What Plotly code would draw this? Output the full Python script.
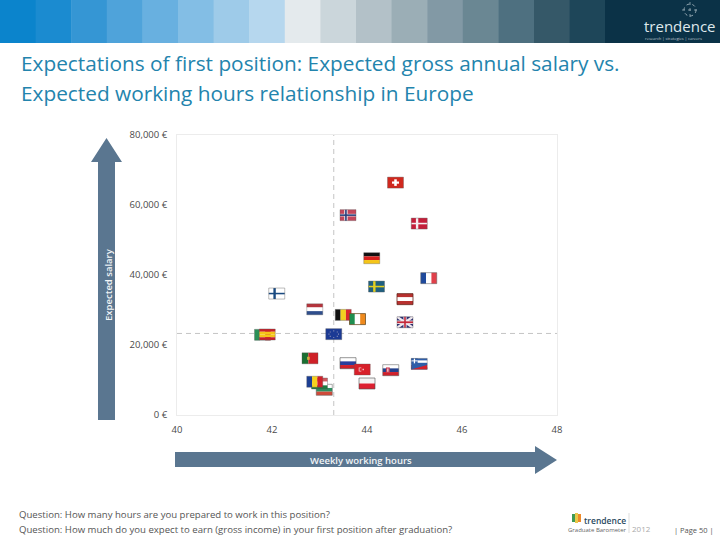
import plotly.graph_objects as go

W, H = 720, 540
COUNTRIES = ["CH","NO","DK","DE","FR","SE","AT","FI","NL","BE","IE","UK","IT","ES","EU","PT","RU","TR","SK","GR","BG","HU","RO","PL"]
HOURS = [44.6,43.6,45.1,44.1,45.3,44.2,44.8,42.1,42.9,43.5,43.8,44.8,41.8,41.9,43.3,42.8,43.6,43.9,44.5,45.1,43.1,43.0,42.9,44.0]
SALARY = [66400,57100,54700,44800,39100,36700,33100,34700,30200,28600,27400,26500,22900,23000,23100,16200,14800,13000,12800,14600,7200,9000,9500,9000]
X_TICKS = [40,42,44,46,48]
Y_TICKS = [0,20000,40000,60000,80000]
Y_LABELS = ["0 €","20,000 €","40,000 €","60,000 €","80,000 €"]
MEAN_HOURS = 43.3
MEAN_SALARY = 23300
BANDS = ["#0b84cc","#1b8bd0","#3596d4","#4fa3da","#68b0e0","#83bee5","#9ecbe9","#b6d7ee","#e4eaed","#cbd6db","#b3c1c8","#9baeb6","#8299a5","#6a8793","#4e7080","#355868","#1e4659"]
HEADER_DARK = "#0b3247"
TITLE_1 = "Expectations of first position: Expected gross annual salary vs."
TITLE_2 = "Expected working hours relationship in Europe"
Q1 = "Question: How many hours are you prepared to work in this position?"
Q2 = "Question: How much do you expect to earn (gross income) in your first position after graduation?"
ARROW = "#5a7690"

FW, FH = 16, 11


def px(x): return x / W
def py(y): return 1 - y / H


shapes = []
def rect_p(x0, y0, x1, y1, c):
    shapes.append(dict(type="rect", xref="paper", yref="paper", x0=px(x0), x1=px(x1), y0=py(y0), y1=py(y1),
                       fillcolor=c, line_width=0, layer="below"))
def poly_p(pts, c):
    d = "M" + " L".join(f"{px(a):.5f},{py(b):.5f}" for a, b in pts) + " Z"
    shapes.append(dict(type="path", xref="paper", yref="paper", path=d, fillcolor=c, line_width=0, layer="below"))


def frect(i, u0, v0, u1, v1, c):
    """rect in flag units (u right, v down, 0..1), anchored on the data point"""
    shapes.append(dict(type="rect", xref="x", yref="y", xsizemode="pixel", ysizemode="pixel",
                       xanchor=HOURS[i], yanchor=SALARY[i],
                       x0=(u0 - .5) * FW, x1=(u1 - .5) * FW, y0=(.5 - v0) * FH, y1=(.5 - v1) * FH,
                       fillcolor=c, line_width=0, layer="above"))
def fpoly(i, pts, c, lw=0, lc=None):
    d = "M" + " L".join(f"{(u - .5) * FW:.2f},{(.5 - v) * FH:.2f}" for u, v in pts)
    if lw == 0:
        d += " Z"
    s = dict(type="path", xref="x", yref="y", xsizemode="pixel", ysizemode="pixel",
             xanchor=HOURS[i], yanchor=SALARY[i], path=d, layer="above")
    if lw:
        s["line"] = dict(color=lc, width=lw)
    else:
        s["fillcolor"] = c
        s["line_width"] = 0
    shapes.append(s)
def outline(i, c):
    shapes.append(dict(type="rect", xref="x", yref="y", xsizemode="pixel", ysizemode="pixel",
                       xanchor=HOURS[i], yanchor=SALARY[i], x0=-FW / 2, x1=FW / 2, y0=FH / 2, y1=-FH / 2,
                       line=dict(color=c, width=1), fillcolor="rgba(0,0,0,0)", layer="above"))
def hs(i, cols):
    for k, c in enumerate(cols):
        frect(i, 0, k / len(cols), 1, (k + 1) / len(cols), c)
def vs(i, cols):
    for k, c in enumerate(cols):
        frect(i, k / len(cols), 0, (k + 1) / len(cols), 1, c)
def cross(i, bg, c1, c2=None):
    frect(i, 0, 0, 1, 1, bg)
    if c2:
        frect(i, .26, 0, .48, 1, c2)
        frect(i, 0, .38, 1, .62, c2)
    a, b = (.32, .42) if c2 else (.29, .44)
    frect(i, a, 0, b, 1, c1)
    frect(i, 0, .43, 1, .57, c1)


for i, c in enumerate(COUNTRIES):
    edge = "rgba(90,90,90,.35)"
    if c == "CH":
        frect(i, 0, 0, 1, 1, "#d0281e"); frect(i, .42, .2, .58, .8, "#fff"); frect(i, .28, .4, .72, .6, "#fff")
    elif c == "NO": cross(i, "#c4455a", "#2b3f7c", "#e8dfe2")
    elif c == "DK": cross(i, "#c41e3a", "#f4eef0")
    elif c == "DE": hs(i, ["#111111", "#d8201e", "#f5c518"])
    elif c == "FR": vs(i, ["#1f4a9c", "#ffffff", "#e0404a"]); edge = "rgba(90,90,90,.5)"
    elif c == "SE": cross(i, "#1f5f7f", "#e4d020")
    elif c == "AT": hs(i, ["#b8312f", "#ffffff", "#b8312f"]); edge = "rgba(100,40,30,.8)"
    elif c == "FI": cross(i, "#ffffff", "#1a4a80"); edge = "rgba(90,90,90,.4)"
    elif c == "NL": hs(i, ["#b5343c", "#ffffff", "#2f4e8c"])
    elif c == "BE": vs(i, ["#111111", "#f2d020", "#d8262e"])
    elif c == "IE": vs(i, ["#1f8f50", "#ffffff", "#ef8a1d"]); edge = "rgba(110,80,40,.8)"
    elif c == "UK":
        frect(i, 0, 0, 1, 1, "#2a2f70")
        fpoly(i, [(0, 0), (1, 1)], None, 2.2, "#f0e8ee"); fpoly(i, [(0, 1), (1, 0)], None, 2.2, "#f0e8ee")
        frect(i, .4, 0, .6, 1, "#f0e8ee"); frect(i, 0, .34, 1, .66, "#f0e8ee")
        frect(i, .45, 0, .55, 1, "#c4283a"); frect(i, 0, .42, 1, .58, "#c4283a")
    elif c == "IT": vs(i, ["#2a9058", "#ffffff", "#d0202a"])
    elif c == "ES":
        hs(i, ["#c8202a", "#f5c518", "#f5c518", "#c8202a"])
    elif c == "EU":
        frect(i, 0, 0, 1, 1, "#1c3a94")
        for u, v in [(.5, .2), (.72, .3), (.8, .5), (.72, .7), (.5, .8), (.28, .7), (.2, .5), (.28, .3)]:
            frect(i, u - .03, v - .05, u + .03, v + .05, "#8f93b8")
    elif c == "PT":
        frect(i, 0, 0, .4, 1, "#1b6f32"); frect(i, .4, 0, 1, 1, "#cf2027"); frect(i, .32, .36, .48, .64, "#d8b040")
    elif c == "RU": hs(i, ["#ffffff", "#2a3f9c", "#d0202a"]); edge = "rgba(80,80,80,.6)"
    elif c == "TR":
        frect(i, 0, 0, 1, 1, "#d8202a"); frect(i, .28, .32, .44, .68, "#f4d8d8"); frect(i, .33, .38, .46, .62, "#d8202a"); frect(i, .52, .44, .6, .56, "#f4d8d8")
    elif c == "SK":
        hs(i, ["#ffffff", "#23408c", "#d0202a"]); frect(i, .2, .25, .44, .75, "#c83a50"); frect(i, .29, .35, .35, .65, "#ffffff"); edge = "rgba(80,80,80,.5)"
    elif c == "GR":
        hs(i, ["#2f5ea8", "#ffffff", "#2f5ea8", "#ffffff", "#2f5ea8"])
        frect(i, 0, .6, 1, 1, "#d8202a")
        fpoly(i, [(0, .6), (1, .6), (0, 1)], "#2f5ea8")
        frect(i, 0, 0, .4, .45, "#2f5ea8"); frect(i, .16, 0, .24, .45, "#fff"); frect(i, 0, .18, .4, .27, "#fff")
    elif c == "BG": hs(i, ["#ffffff", "#2a9060", "#d04a3a"]); edge = "rgba(90,90,90,.5)"
    elif c == "HU": hs(i, ["#d05a60", "#ffffff", "#1f7a40"])
    elif c == "RO": vs(i, ["#1c3f94", "#f5d21e", "#d0202a"])
    elif c == "PL": hs(i, ["#f4f4f4", "#dc2030"]); edge = "rgba(80,80,80,.6)"
    outline(i, edge)

# header
for k, c in enumerate(BANDS):
    rect_p(k * 35.6, 0, (k + 1) * 35.6 + .5, 43, c)
rect_p(605, 0, 720, 43, HEADER_DARK)
# header logo target
shapes.append(dict(type="circle", xref="paper", yref="paper", x0=px(684), x1=px(696), y0=py(16), y1=py(4),
                   line=dict(color="#c8d4da", width=.7, dash="dot"), layer="below"))
for (a, b, c_, d) in [(690, 2, 690, 18), (682, 10, 698, 10)]:
    shapes.append(dict(type="line", xref="paper", yref="paper", x0=px(a), y0=py(b), x1=px(c_), y1=py(d),
                       line=dict(color="#c8d4da", width=.6, dash="dot"), layer="below"))
# arrows
poly_p([(98, 420), (98, 162), (91, 162), (106.5, 138), (122, 162), (115, 162), (115, 420)], ARROW)
poly_p([(175, 452), (535, 452), (535, 446), (557, 460), (535, 474), (535, 467), (175, 467)], ARROW)
# footer logo dots
rect_p(572, 514, 575, 522, "#3f9a55"); rect_p(575, 513, 578, 523, "#e9c94a"); rect_p(578, 514, 581, 522, "#ee8a2a")
shapes.append(dict(type="line", xref="paper", yref="paper", x0=px(629), x1=px(629), y0=py(513), y1=py(533),
                   line=dict(color="#dddddd", width=1), layer="below"))
# mean lines
shapes.append(dict(type="line", xref="x", yref="paper", x0=MEAN_HOURS, x1=MEAN_HOURS, y0=py(415), y1=py(135),
                   line=dict(color="#c4c4c4", width=1, dash="5px,4px"), layer="below"))
shapes.append(dict(type="line", xref="paper", yref="y", x0=px(177), x1=px(557), y0=MEAN_SALARY, y1=MEAN_SALARY,
                   line=dict(color="#c4c4c4", width=1, dash="5px,4px"), layer="below"))


def note(x, y, text, size, color, font="Open Sans", anchor="left", angle=0, weight=400, **kw):
    return dict(xref="paper", yref="paper", x=px(x), y=py(y), text=text, showarrow=False, xanchor=anchor,
                yanchor="middle", textangle=angle, borderpad=0,
                font=dict(family=font, size=size, color=color, weight=weight), **kw)


annotations = [
    note(20, 63.5, TITLE_1, 20.8, "#2384ad"),
    note(20, 93, TITLE_2, 20.8, "#2384ad"),
    note(18, 514, Q1, 9.6, "#555555"),
    note(18, 529, Q2, 9.6, "#555555"),
    note(108, 285, "Expected salary", 9.5, "#f2f5f7", anchor="center", angle=-90, weight=600),
    note(361, 460, "Weekly working hours", 9.5, "#f2f5f7", anchor="center", weight=600),
    note(643, 25.8, "trendence", 15, "#dfe8ec"),
    note(644, 38.8, "research | strategies | careers", 4, "#c0ccd2"),
    note(583, 520, "trendence", 8.5, "#2a4a60", weight=600),
    note(567, 530, "Graduate Barometer", 6, "#666666"),
    note(631, 528, "2012", 8, "#aaaaaa"),
    note(673, 530, "| Page 50 |", 7.5, "#555555"),
]

fig = go.Figure(go.Scatter(x=HOURS, y=SALARY, mode="markers", text=COUNTRIES,
                           marker=dict(size=10, symbol="square", color="rgba(0,0,0,0)"),
                           hovertemplate="%{text}: %{x} h, %{y} €<extra></extra>"))
fig.update_layout(
    width=W, height=H, margin=dict(l=0, r=0, t=0, b=0, pad=0, autoexpand=False), autosize=False, showlegend=False,
    paper_bgcolor="white", plot_bgcolor="white", shapes=shapes, annotations=annotations,
    font=dict(family="Open Sans", size=9.5, color="#4a4a4a"),
    xaxis=dict(domain=[px(177), px(557)], range=[40, 48], tickvals=X_TICKS, zeroline=False, automargin=False,
               showgrid=False, showline=True, mirror=True, linecolor="#ececec", linewidth=1,
               ticks="outside", ticklen=6, tickcolor="rgba(0,0,0,0)", tickfont=dict(size=9.5, color="#4a4a4a")),
    yaxis=dict(domain=[py(415), py(135)], range=[0, 80000], tickvals=Y_TICKS, ticktext=Y_LABELS, zeroline=False, automargin=False,
               showgrid=False, showline=True, mirror=True, linecolor="#ececec", linewidth=1,
               ticks="outside", ticklen=7, tickcolor="rgba(0,0,0,0)", tickfont=dict(size=9.5, color="#4a4a4a")),
)
fig.write_html("out.html", config=dict(displayModeBar=False), post_script="document.body.style.margin='0';")
